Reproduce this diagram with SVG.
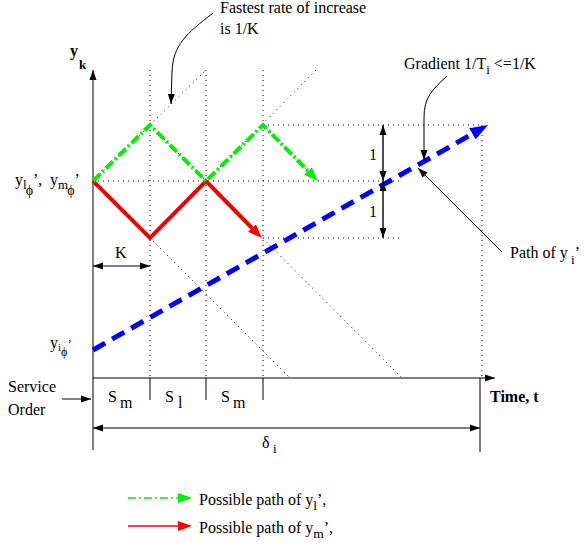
<svg xmlns="http://www.w3.org/2000/svg" width="584" height="548" viewBox="0 0 584 548">
<style>
text{font-family:"Liberation Serif","Times New Roman",serif;font-size:16px;fill:#000}
.b{font-weight:bold}
.s{font-size:13px}
.dot{fill:none;stroke:#000;stroke-width:1;stroke-dasharray:1 4}
.ln{fill:none;stroke:#000;stroke-width:1}
.gr{fill:none;stroke:#7a7a7a;stroke-width:1.5}
</style>
<defs>
<marker id="ab" viewBox="0 -4 10 8" refX="10" refY="0" markerWidth="10" markerHeight="8" markerUnits="userSpaceOnUse" orient="auto-start-reverse"><path d="M0,-3.5 L10,0 L0,3.5 z" fill="#000"/></marker>
<marker id="ablue" viewBox="0 -7 18 14" refX="0" refY="0" markerWidth="18" markerHeight="14" markerUnits="userSpaceOnUse" orient="auto"><path d="M0,-6.5 L18,0 L0,6.5 z" fill="#0000ff"/></marker>
<marker id="ared" viewBox="0 -6 14 12" refX="0" refY="0" markerWidth="14" markerHeight="12" markerUnits="userSpaceOnUse" orient="auto"><path d="M0,-5.5 L14,0 L0,5.5 z" fill="#ff0000"/></marker>
<marker id="agreen" viewBox="0 -6 14 12" refX="0" refY="0" markerWidth="14" markerHeight="12" markerUnits="userSpaceOnUse" orient="auto"><path d="M0,-5.5 L14,0 L0,5.5 z" fill="#00ee00"/></marker>
</defs>

<g id="guides">
<path class="dot" d="M150,70 V378 M206,70 V378 M263,70 V378 M482,125 V378"/>
<path class="dot" d="M93,181 H400 M263,125 H482 M263,238 H400"/>
<path class="dot" d="M93,181 L206,70 M150,238 L316,70 M93,181 L290,378 M150,125 L402,378 M263,125 L318,181"/>
</g>

<g id="axes">
<path class="ln" d="M93,378 V70" marker-end="url(#ab)"/>
<path class="ln" d="M93,378 H495" marker-end="url(#ab)"/>
<path class="ln" d="M93,378 V450 M480,378 V452 M150,378 V400 M206,378 V400 M263,378 V400"/>
</g>

<g id="connectors">
<path d="M93,350 L472.4,133.9" fill="none" stroke="#0000ff" stroke-width="5" stroke-dasharray="14 8" marker-end="url(#ablue)"/>
<path d="M93,181 L150,238 L206,181 L252,228" fill="none" stroke="#ff0000" stroke-width="4" marker-end="url(#ared)"/>
<path d="M93,181 L150,125 L206,181 L263,125 L308,171" fill="none" stroke="#00ee00" stroke-width="4" stroke-dasharray="10 3 2 3" marker-end="url(#agreen)"/>
<path class="dot" d="M93,181 L150,238 L206,181 L252,228"/>
<path class="ln" d="M93,266 H150" marker-start="url(#ab)" marker-end="url(#ab)"/>
<path class="gr" d="M383,125 V181 M383,181 V238"/>
<path class="ln" stroke-width="0" d="M383,125 V181" marker-start="url(#ab)" marker-end="url(#ab)"/>
<path class="ln" stroke-width="0" d="M383,181 V238" marker-start="url(#ab)" marker-end="url(#ab)"/>
<path class="ln" d="M62,399 H91" marker-end="url(#ab)"/>
<path class="ln" d="M93,428 H480" marker-start="url(#ab)" marker-end="url(#ab)"/>
<path class="ln" d="M213,13 C186,34 173,45 172,72 L171,104" marker-end="url(#ab)"/>
<path class="ln" d="M447,76 C432,90 424,97 424,118 L424,160" marker-end="url(#ab)"/>
<path class="ln" d="M502,252 L418,168" marker-end="url(#ab)"/>
</g>

<g id="labels">
<text x="70" y="56" class="b">y</text><text x="79" y="69" class="b s">k</text>
<text x="15" y="185" font-size="17">y<tspan dy="4" font-size="13">l</tspan><tspan dx="-1" dy="6" font-size="14">ϕ</tspan><tspan dy="-10" font-size="16">’,</tspan></text>
<text x="50" y="185" font-size="17">y<tspan dy="4" font-size="13">m</tspan><tspan dx="-1" dy="6" font-size="14">ϕ</tspan><tspan dy="-10" font-size="16">’</tspan></text>
<text x="50" y="348" font-size="14">y<tspan dy="3" font-size="11">i</tspan><tspan dy="5" font-size="12">ϕ</tspan><tspan dy="-8" font-size="13">’</tspan></text>
<text x="115" y="258">K</text>
<text x="369" y="160">1</text>
<text x="369" y="217">1</text>
<text x="220" y="13" font-size="16.5">Fastest rate of increase</text>
<text x="220" y="34" font-size="16.5">is 1/K</text>
<text x="404" y="69">Gradient 1/T<tspan dy="5" class="s">i</tspan><tspan dy="-5"> &lt;=1/K</tspan></text>
<text x="510" y="258">Path of y<tspan dy="6" class="s"> i</tspan><tspan dy="-6">’</tspan></text>
<text x="8" y="392" font-size="15">Service</text>
<text x="8" y="415" font-size="15">Order</text>
<text x="108" y="402">S</text><text x="120" y="408">m</text>
<text x="165" y="402">S</text><text x="178" y="408">l</text>
<text x="221" y="402">S</text><text x="233" y="408">m</text>
<text x="490" y="402" class="b">Time, t</text>
<text x="262" y="448">δ</text><text x="273" y="453" class="s">i</text>
</g>

<g id="legend">
<path d="M128,498 H178" fill="none" stroke="#00ee00" stroke-width="1.5" stroke-dasharray="8 3 2 3"/>
<path d="M178,493 L192,498 L178,503 z" fill="#00ee00"/>
<path d="M128,526 H178" fill="none" stroke="#ff0000" stroke-width="1.5"/>
<path d="M178,521 L192,526 L178,531 z" fill="#ff0000"/>
<text x="199" y="505" font-size="16.5">Possible path of y<tspan dy="5" font-size="13.5">l</tspan><tspan dy="-5">’,</tspan></text>
<text x="199" y="533" font-size="16.5">Possible path of y<tspan dy="5" font-size="13.5">m</tspan><tspan dy="-5">’,</tspan></text>
</g>
</svg>
